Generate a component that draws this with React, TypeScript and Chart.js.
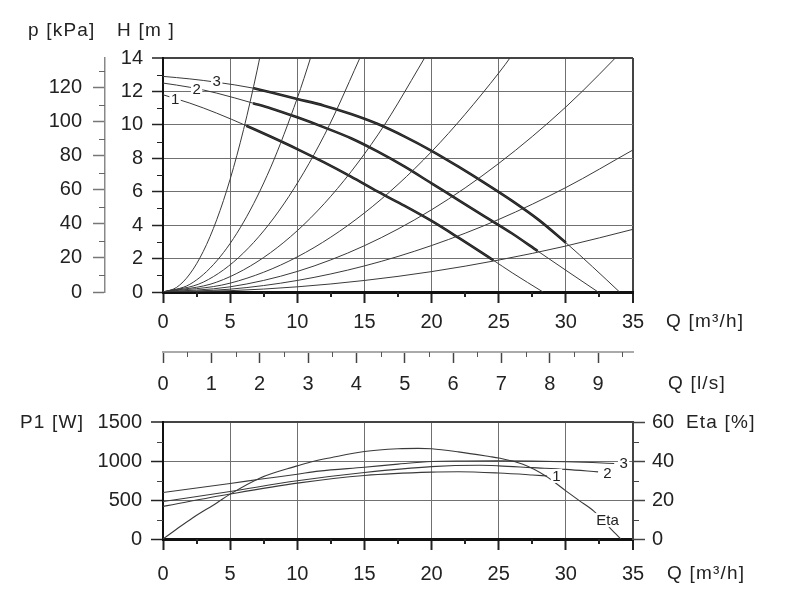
import React, { useEffect, useRef } from "react";
import { Chart, registerables } from "chart.js";

Chart.register(...registerables);

// ---------------- data ----------------
// Pump curves H [m] vs Q [m3/h]
const pump1Q = [0, 2, 4, 6.2, 8, 10, 12, 14, 16, 18, 20, 22, 24.6, 26, 28.3];
const pump1H = [11.8, 11.3, 10.7, 9.95, 9.3, 8.55, 7.75, 6.9, 6.0, 5.15, 4.25, 3.25, 1.9, 1.15, 0];
const pump1Thick = [6.2, 24.6];

const pump2Q = [0, 2, 4, 6.7, 8, 10, 12, 14, 16, 18, 20, 22, 24, 26, 27.9, 30, 32.4];
const pump2H = [12.5, 12.25, 11.9, 11.3, 11.0, 10.45, 9.85, 9.2, 8.4, 7.5, 6.5, 5.5, 4.5, 3.5, 2.45, 1.3, 0];
const pump2Thick = [6.7, 27.9];

const pump3Q = [0, 2, 4, 6.7, 8, 10, 12, 14, 16, 18, 20, 22, 24, 26, 28, 30, 32, 34];
const pump3H = [12.9, 12.75, 12.55, 12.2, 11.95, 11.55, 11.15, 10.65, 10.05, 9.3, 8.45, 7.5, 6.5, 5.45, 4.3, 2.95, 1.5, 0];
const pump3Thick = [6.7, 30];

// System curves H [m] vs Q [m3/h]
const sysAQ = [0, 1, 2, 3, 4, 5, 6, 7, 7.5];
const sysAH = [0, 0.27, 1.08, 2.43, 4.32, 6.75, 9.72, 13.23, 15.2];
const sysBQ = [0, 2, 4, 6, 8, 10, 11, 12];
const sysBH = [0, 0.46, 1.86, 4.18, 7.42, 11.6, 14.04, 16.7];
const sysCQ = [0, 3, 6, 9, 12, 15];
const sysCH = [0, 0.59, 2.34, 5.27, 9.36, 14.6];
const sysDQ = [0, 4, 8, 12, 16, 20];
const sysDH = [0, 0.59, 2.35, 5.28, 9.4, 14.7];
const sysEQ = [0, 5, 10, 15, 20, 25, 27];
const sysEH = [0, 0.53, 2.1, 4.73, 8.4, 13.1, 15.3];
const sysFQ = [0, 5, 10, 15, 20, 25, 30, 35];
const sysFH = [0, 0.31, 1.23, 2.77, 4.92, 7.69, 11.07, 15.07];
const sysGQ = [0, 5, 10, 15, 20, 25, 30, 35];
const sysGH = [0, 0.17, 0.69, 1.56, 2.78, 4.34, 6.25, 8.5];
const sysHQ = [0, 5, 10, 15, 20, 25, 30, 35];
const sysHH = [0, 0.08, 0.31, 0.69, 1.22, 1.91, 2.75, 3.75];

// Power P1 [W] vs Q [m3/h]
const p1Q1 = [0, 5, 10, 15, 20, 22, 25, 27.5, 28.6];
const p1W1 = [418, 576, 716, 815, 858, 862, 846, 821, 808];
const p1Q2 = [0, 5, 10, 15, 20, 23.6, 25, 27.5, 30, 32.4];
const p1W2 = [480, 610, 746, 852, 928, 945, 938, 915, 893, 860];
const p1Q3 = [0, 5, 7.2, 10, 11.6, 15, 17.5, 20, 22.5, 25, 27.5, 30, 32, 33.6];
const p1W3 = [597, 712, 765, 831, 870, 920, 960, 993, 1000, 1002, 998, 990, 980, 968];

// Efficiency Eta [%] vs Q [m3/h]
const etaQ = [0, 1, 2.2, 4, 5, 7.2, 10, 11, 12.5, 15, 17.5, 19, 20, 22, 24.3, 25, 26.8, 28.5, 30, 31, 32.1, 33.6, 34.1];
const etaV = [0, 5, 10.8, 18.5, 23, 31.2, 37.5, 39.5, 41.7, 44.9, 46.3, 46.5, 46.3, 44.7, 42.3, 41.5, 38.3, 32.3, 24.7, 19.7, 14.2, 3.4, 0];

// Axis ticks
const qTicks = [0, 5, 10, 15, 20, 25, 30, 35];
const qMinor = [2.5, 7.5, 12.5, 17.5, 22.5, 27.5, 32.5];
const lsTicks = [0, 1, 2, 3, 4, 5, 6, 7, 8, 9];
const lsMinor = [0.5, 1.5, 2.5, 3.5, 4.5, 5.5, 6.5, 7.5, 8.5, 9.5];
const hTicks = [0, 2, 4, 6, 8, 10, 12, 14];
const hMinor = [1, 3, 5, 7, 9, 11, 13];
const pTicks = [0, 20, 40, 60, 80, 100, 120];
const pMinor = [10, 30, 50, 70, 90, 110, 130];
const wTicks = [0, 500, 1000, 1500];
const wMinor = [250, 750, 1250];
const etaTicks = [0, 20, 40, 60];
const etaMinor = [10, 30, 50];

const Q_MAX = 35;
const H_MAX = 14;
const KPA_PER_M = 9.81;
const M3H_PER_LS = 3.6;

// ---------------- styles ----------------
const FONT = "'Liberation Sans', Arial, Helvetica, sans-serif";
const TEXT = "#222";
const GRID = "#707070";
const FRAME = "#444";
const TRANSPARENT = "rgba(0,0,0,0)";

const pts = (q: number[], h: number[]) => q.map((x, i) => ({ x, y: h[i] }));
const thick = (q: number[], h: number[], r: number[]) =>
  pts(q, h).filter((p) => p.x >= r[0] - 1e-9 && p.x <= r[1] + 1e-9);

const setTicks = (vals: number[]) => (s: any) => {
  s.ticks = vals.map((v) => ({ value: v }));
};

type MinorSpec = { id: string; values: number[]; len: number; color: string; width: number };
type TextSpec = { text: string; x: number; y: number; size?: number; spacing?: number };
type LabelSpec = { text: string; q: number; v: number; yAxis: string };

function decorPlugin(minors: MinorSpec[], titles: TextSpec[], labels: LabelSpec[]) {
  return {
    id: "decor",
    afterDraw(chart: any) {
      const ctx = chart.ctx as CanvasRenderingContext2D;
      // minor ticks
      for (const m of minors) {
        const s = chart.scales[m.id];
        ctx.save();
        ctx.strokeStyle = m.color;
        ctx.lineWidth = m.width;
        ctx.beginPath();
        for (const v of m.values) {
          const p = Math.round(s.getPixelForValue(v)) + (m.width % 2 === 1 ? 0.5 : 0);
          if (s.position === "bottom") {
            ctx.moveTo(p, s.top);
            ctx.lineTo(p, s.top + m.len);
          } else if (s.position === "left") {
            ctx.moveTo(s.right - m.len, p);
            ctx.lineTo(s.right, p);
          } else {
            ctx.moveTo(s.left, p);
            ctx.lineTo(s.left + m.len, p);
          }
        }
        ctx.stroke();
        ctx.restore();
      }
      // curve labels (with white knock-out)
      const xs = chart.scales.x;
      for (const l of labels) {
        const ys = chart.scales[l.yAxis];
        const px = xs.getPixelForValue(l.q);
        const py = ys.getPixelForValue(l.v);
        ctx.save();
        ctx.font = `15px ${FONT}`;
        const w = ctx.measureText(l.text).width;
        ctx.fillStyle = "#fff";
        ctx.fillRect(px - w / 2 - 1.5, py - 7, w + 3, 14);
        ctx.fillStyle = TEXT;
        ctx.textAlign = "center";
        ctx.textBaseline = "middle";
        ctx.fillText(l.text, px, py + 0.5);
        ctx.restore();
      }
      // axis titles
      for (const t of titles) {
        ctx.save();
        ctx.font = `${t.size || 19}px ${FONT}`;
        (ctx as any).letterSpacing = `${t.spacing ?? 1.2}px`;
        ctx.fillStyle = TEXT;
        ctx.textAlign = "left";
        ctx.textBaseline = "middle";
        ctx.fillText(t.text, t.x, t.y);
        ctx.restore();
      }
    },
  };
}

const tickFont = { family: FONT, size: 20 };

function topConfig(): any {
  const thin = (q: number[], h: number[]) => ({
    data: pts(q, h),
    borderColor: "#3a3a3a",
    borderWidth: 1,
    pointRadius: 0,
    cubicInterpolationMode: "monotone",
    xAxisID: "x",
    yAxisID: "y",
  });
  const bold = (q: number[], h: number[], r: number[]) => ({
    data: thick(q, h, r),
    borderColor: "#1e1e1e",
    borderWidth: 2.6,
    pointRadius: 0,
    cubicInterpolationMode: "monotone",
    xAxisID: "x",
    yAxisID: "y",
  });
  const datasets = [
    thin(sysAQ, sysAH),
    thin(sysBQ, sysBH),
    thin(sysCQ, sysCH),
    thin(sysDQ, sysDH),
    thin(sysEQ, sysEH),
    thin(sysFQ, sysFH),
    thin(sysGQ, sysGH),
    thin(sysHQ, sysHH),
    thin(pump1Q, pump1H),
    thin(pump2Q, pump2H),
    thin(pump3Q, pump3H),
    bold(pump1Q, pump1H, pump1Thick),
    bold(pump2Q, pump2H, pump2Thick),
    bold(pump3Q, pump3H, pump3Thick),
  ];
  const minors: MinorSpec[] = [
    { id: "x", values: qMinor, len: 5, color: "#222", width: 2 },
    { id: "x2", values: lsMinor, len: 5, color: "#555", width: 1 },
    { id: "y", values: hMinor, len: 6, color: "#222", width: 1 },
    { id: "y2", values: pMinor, len: 6, color: "#666", width: 1 },
  ];
  const titles: TextSpec[] = [
    { text: "p [kPa]", x: 28, y: 31 },
    { text: "H [m ]", x: 117, y: 31 },
    { text: "Q [m³/h]", x: 666, y: 322 },
    { text: "Q [l/s]", x: 668, y: 384 },
  ];
  const labels: LabelSpec[] = [
    { text: "3", q: 4.0, v: 12.6, yAxis: "y" },
    { text: "2", q: 2.5, v: 12.1, yAxis: "y" },
    { text: "1", q: 0.9, v: 11.5, yAxis: "y" },
  ];
  return {
    type: "line",
    data: { datasets },
    options: {
      animation: false,
      responsive: false,
      devicePixelRatio: 1,
      events: [],
      layout: { padding: { top: 58, right: 159, left: 0, bottom: 0 } },
      plugins: { legend: { display: false }, tooltip: { enabled: false } },
      scales: {
        x: {
          type: "linear",
          axis: "x",
          position: "bottom",
          weight: 0,
          min: 0,
          max: Q_MAX,
          afterBuildTicks: setTicks(qTicks),
          afterFit: (s: any) => { s.height = 60; },
          ticks: { callback: (v: number) => String(v), font: tickFont, color: TEXT, padding: 7, maxRotation: 0, autoSkip: false },
          grid: {
            color: (c: any) => (c.tick && c.tick.value === Q_MAX ? FRAME : c.tick && c.tick.value === 0 ? TRANSPARENT : GRID),
            lineWidth: (c: any) => (c.tick && c.tick.value === Q_MAX ? 2 : 1),
            tickColor: "#222",
            tickWidth: 2,
            tickLength: 11,
          },
          border: { display: true, color: "#111", width: 3 },
        },
        x2: {
          type: "linear",
          axis: "x",
          position: "bottom",
          weight: 1,
          min: 0,
          max: Q_MAX / M3H_PER_LS,
          afterBuildTicks: setTicks(lsTicks),
          afterFit: (s: any) => { s.height = 48; },
          ticks: { callback: (v: number) => String(v), font: tickFont, color: TEXT, padding: 9, maxRotation: 0, autoSkip: false },
          grid: { drawOnChartArea: false, tickColor: "#444", tickWidth: 1.5, tickLength: 11 },
          border: { display: true, color: "#aaa", width: 2 },
        },
        y: {
          type: "linear",
          axis: "y",
          position: "left",
          weight: 0,
          min: 0,
          max: H_MAX,
          afterBuildTicks: setTicks(hTicks),
          afterFit: (s: any) => { s.width = 58; },
          ticks: { callback: (v: number) => String(v), font: tickFont, color: TEXT, padding: 9, autoSkip: false },
          grid: {
            color: (c: any) => (c.tick && c.tick.value === H_MAX ? FRAME : c.tick && c.tick.value === 0 ? TRANSPARENT : GRID),
            lineWidth: (c: any) => (c.tick && c.tick.value === H_MAX ? 2 : 1),
            tickColor: "#222",
            tickWidth: 1.5,
            tickLength: 11,
          },
          border: { display: true, color: "#111", width: 2 },
        },
        y2: {
          type: "linear",
          axis: "y",
          position: "left",
          weight: 1,
          min: 0,
          max: H_MAX * KPA_PER_M,
          afterBuildTicks: setTicks(pTicks),
          afterFit: (s: any) => { s.width = 105; },
          ticks: { callback: (v: number) => String(v), font: tickFont, color: TEXT, padding: 11, autoSkip: false },
          grid: { drawOnChartArea: false, tickColor: "#777", tickWidth: 1.5, tickLength: 12 },
          border: { display: true, color: "#888", width: 1.5 },
        },
      },
    },
    plugins: [decorPlugin(minors, titles, labels)],
  };
}

function bottomConfig(): any {
  const line = (q: number[], v: number[], yAxisID: string) => ({
    data: pts(q, v),
    borderColor: "#3a3a3a",
    borderWidth: 1.1,
    pointRadius: 0,
    cubicInterpolationMode: "monotone",
    xAxisID: "x",
    yAxisID,
  });
  const datasets = [
    line(p1Q1, p1W1, "y"),
    line(p1Q2, p1W2, "y"),
    line(p1Q3, p1W3, "y"),
    line(etaQ, etaV, "y1"),
  ];
  const minors: MinorSpec[] = [
    { id: "x", values: qMinor, len: 5, color: "#222", width: 2 },
    { id: "y", values: wMinor, len: 6, color: "#444", width: 1 },
    { id: "y1", values: etaMinor, len: 6, color: "#444", width: 1 },
  ];
  const titles: TextSpec[] = [
    { text: "P1 [W]", x: 20, y: 23 },
    { text: "Eta [%]", x: 686, y: 23 },
    { text: "Q [m³/h]", x: 667, y: 174 },
  ];
  const labels: LabelSpec[] = [
    { text: "1", q: 29.3, v: 808, yAxis: "y" },
    { text: "2", q: 33.1, v: 846, yAxis: "y" },
    { text: "3", q: 34.3, v: 974, yAxis: "y" },
    { text: "Eta", q: 33.1, v: 9.7, yAxis: "y1" },
  ];
  return {
    type: "line",
    data: { datasets },
    options: {
      animation: false,
      responsive: false,
      devicePixelRatio: 1,
      events: [],
      layout: { padding: { top: 22, right: 0, left: 0, bottom: 0 } },
      plugins: { legend: { display: false }, tooltip: { enabled: false } },
      scales: {
        x: {
          type: "linear",
          position: "bottom",
          min: 0,
          max: Q_MAX,
          afterBuildTicks: setTicks(qTicks),
          afterFit: (s: any) => { s.height = 69; },
          ticks: { callback: (v: number) => String(v), font: tickFont, color: TEXT, padding: 12, maxRotation: 0, autoSkip: false },
          grid: {
            color: (c: any) => (c.tick && c.tick.value === Q_MAX ? FRAME : c.tick && c.tick.value === 0 ? TRANSPARENT : GRID),
            lineWidth: (c: any) => (c.tick && c.tick.value === Q_MAX ? 2 : 1),
            tickColor: "#222",
            tickWidth: 2,
            tickLength: 11,
          },
          border: { display: true, color: "#111", width: 3 },
        },
        y: {
          type: "linear",
          position: "left",
          min: 0,
          max: 1500,
          afterBuildTicks: setTicks(wTicks),
          afterFit: (s: any) => { s.width = 163; },
          ticks: { callback: (v: number) => String(v), font: tickFont, color: TEXT, padding: 9, autoSkip: false },
          grid: {
            color: (c: any) => (c.tick && c.tick.value === 1500 ? FRAME : c.tick && c.tick.value === 0 ? TRANSPARENT : GRID),
            lineWidth: (c: any) => (c.tick && c.tick.value === 1500 ? 2 : 1),
            tickColor: "#222",
            tickWidth: 1.5,
            tickLength: 12,
          },
          border: { display: true, color: "#111", width: 2 },
        },
        y1: {
          type: "linear",
          axis: "y",
          position: "right",
          min: 0,
          max: 60,
          afterBuildTicks: setTicks(etaTicks),
          afterFit: (s: any) => { s.width = 159; },
          ticks: { callback: (v: number) => String(v), font: tickFont, color: TEXT, padding: 7, autoSkip: false },
          grid: { drawOnChartArea: false, tickColor: "#444", tickWidth: 1.5, tickLength: 12 },
          border: { display: true, color: FRAME, width: 2 },
        },
      },
    },
    plugins: [decorPlugin(minors, titles, labels)],
  };
}

export default function App() {
  const topRef = useRef<HTMLCanvasElement>(null);
  const botRef = useRef<HTMLCanvasElement>(null);

  useEffect(() => {
    const c1 = new Chart(topRef.current as HTMLCanvasElement, topConfig());
    const c2 = new Chart(botRef.current as HTMLCanvasElement, bottomConfig());
    return () => {
      c1.destroy();
      c2.destroy();
    };
  }, []);

  return (
    <div style={{ position: "absolute", left: 0, top: 0, width: 792, height: 608, background: "#fff" }}>
      <canvas
        ref={topRef}
        width={792}
        height={400}
        style={{ position: "absolute", left: 0, top: 0, width: 792, height: 400 }}
      />
      <canvas
        ref={botRef}
        width={792}
        height={208}
        style={{ position: "absolute", left: 0, top: 400, width: 792, height: 208 }}
      />
    </div>
  );
}
